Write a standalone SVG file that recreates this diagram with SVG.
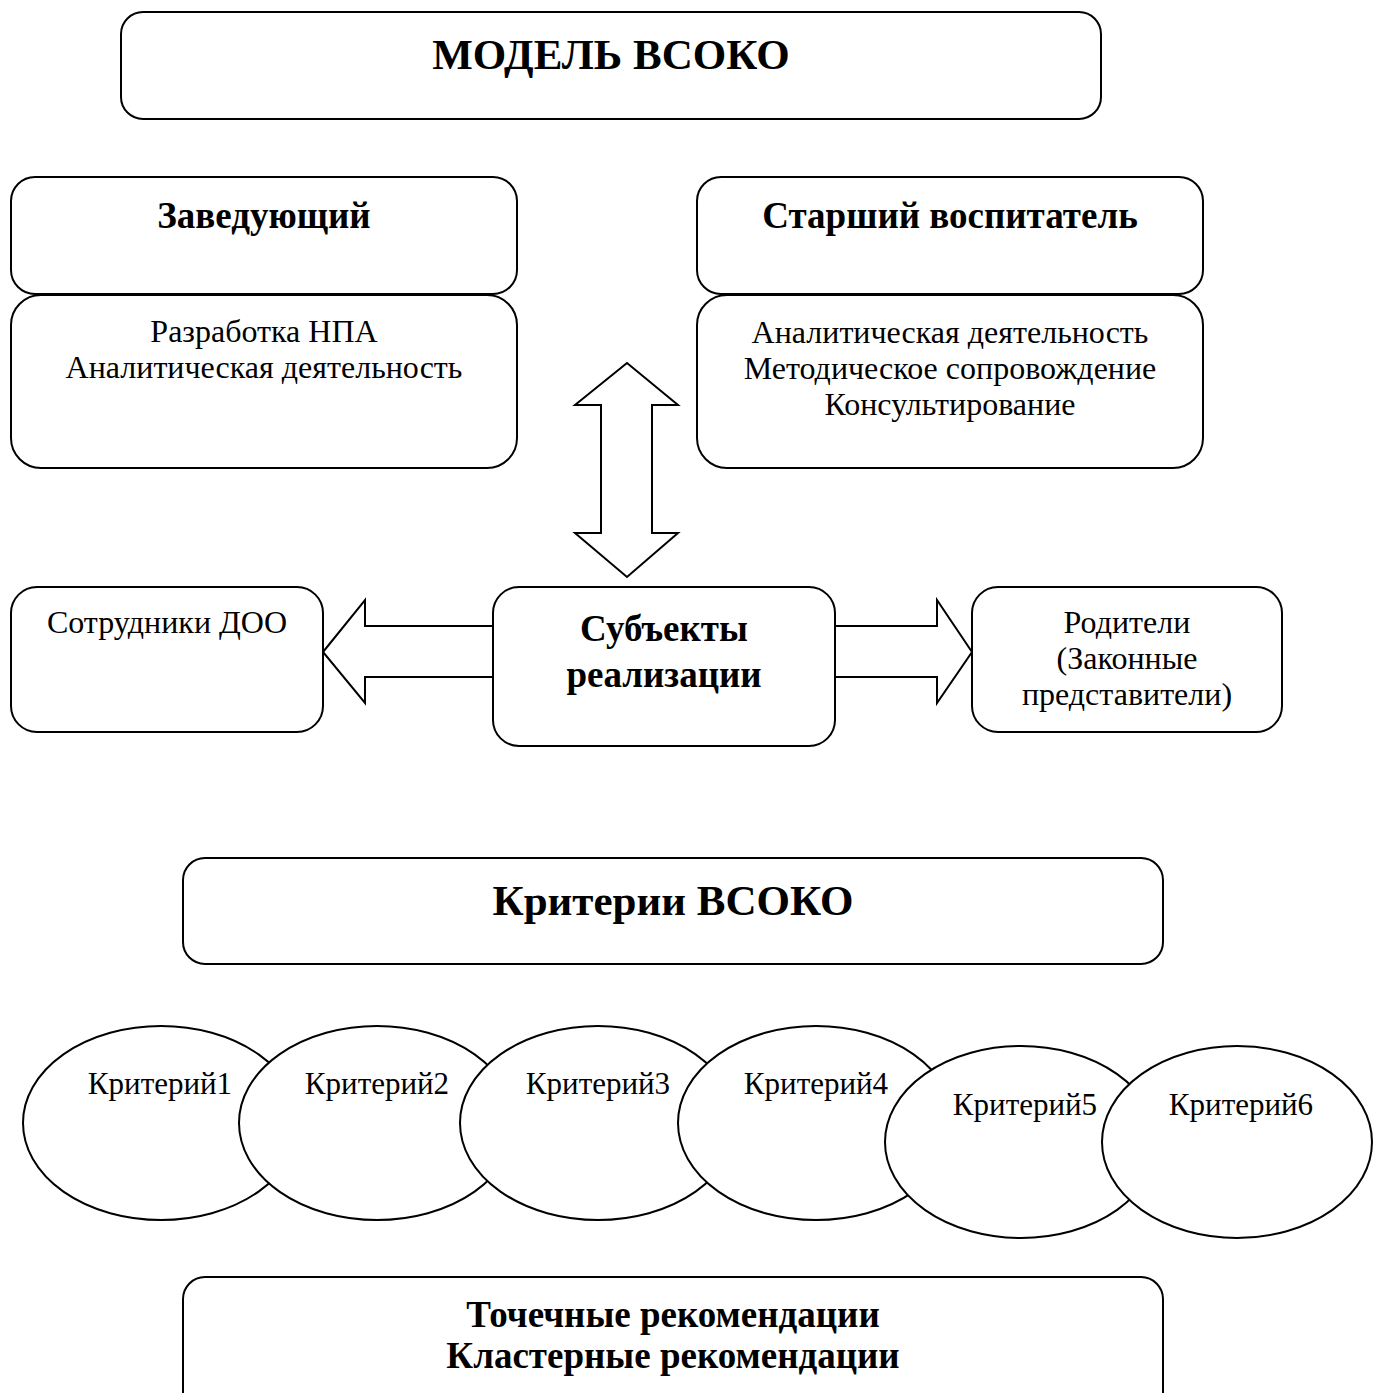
<svg xmlns="http://www.w3.org/2000/svg" width="1373" height="1393" viewBox="0 0 1373 1393">
<style>
.box{fill:#fff;stroke:#000;stroke-width:2}
.arr{fill:#fff;stroke:#000;stroke-width:2;stroke-linejoin:miter}
text{font-family:"Liberation Serif","Times New Roman",serif;fill:#000;text-anchor:middle}
.t1{font-size:43px;font-weight:bold}
.t2{font-size:37px;font-weight:bold}
.t3{font-size:32px}
.t4{font-size:31px}
</style>
<rect width="1373" height="1393" fill="#fff"/>
<g id="model"><rect class="box" x="121" y="12" width="980" height="107" rx="22"/><text class="t1" x="611" y="69">МОДЕЛЬ ВСОКО</text></g>
<g id="zav"><rect class="box" x="11" y="177" width="506" height="117" rx="24"/><text class="t2" x="264" y="228">Заведующий</text></g>
<g id="zav-tasks"><rect class="box" x="11" y="295" width="506" height="173" rx="30"/><text class="t3" x="264" y="342">Разработка НПА</text><text class="t3" x="264" y="378">Аналитическая деятельность</text></g>
<g id="star"><rect class="box" x="697" y="177" width="506" height="117" rx="24"/><text class="t2" x="950" y="228">Старший воспитатель</text></g>
<g id="star-tasks"><rect class="box" x="697" y="295" width="506" height="173" rx="30"/><text class="t3" x="950" y="343">Аналитическая деятельность</text><text class="t3" x="950" y="379">Методическое сопровождение</text><text class="t3" x="950" y="415">Консультирование</text></g>
<g id="connectors">
<polygon class="arr" points="627,363 678,405 652,405 652,533 678,533 627,577 575,533 601,533 601,405 575,405"/>
<polygon class="arr" points="323,652 365,600 365,626 493,626 493,677 365,677 365,703"/>
<polygon class="arr" points="972,652 937,600 937,626 835,626 835,677 937,677 937,703"/>
</g>
<g id="sotr"><rect class="box" x="11" y="587" width="312" height="145" rx="26"/><text class="t3" x="167" y="633">Сотрудники ДОО</text></g>
<g id="subj"><rect class="box" x="493" y="587" width="342" height="159" rx="26"/><text class="t2" x="664" y="641">Субъекты</text><text class="t2" x="664" y="687">реализации</text></g>
<g id="rod"><rect class="box" x="972" y="587" width="310" height="145" rx="26"/><text class="t3" x="1127" y="633">Родители</text><text class="t3" x="1127" y="669">(Законные</text><text class="t3" x="1127" y="705">представители)</text></g>
<g id="krit"><rect class="box" x="183" y="858" width="980" height="106" rx="22"/><text class="t1" x="673" y="915">Критерии ВСОКО</text></g>
<g id="k1"><ellipse class="box" cx="161" cy="1123" rx="138" ry="97"/><text class="t4" x="160" y="1094">Критерий1</text></g>
<g id="k2"><ellipse class="box" cx="377" cy="1123" rx="138" ry="97"/><text class="t4" x="377" y="1094">Критерий2</text></g>
<g id="k3"><ellipse class="box" cx="598" cy="1123" rx="138" ry="97"/><text class="t4" x="598" y="1094">Критерий3</text></g>
<g id="k4"><ellipse class="box" cx="816" cy="1123" rx="138" ry="97"/><text class="t4" x="816" y="1094">Критерий4</text></g>
<g id="k5"><ellipse class="box" cx="1021" cy="1142" rx="136" ry="96"/><text class="t4" x="1025" y="1115">Критерий5</text></g>
<g id="k6"><ellipse class="box" cx="1237" cy="1142" rx="135" ry="96"/><text class="t4" x="1241" y="1115">Критерий6</text></g>
<g id="rec"><rect class="box" x="183" y="1277" width="980" height="140" rx="22"/><text class="t2" x="673" y="1327">Точечные рекомендации</text><text class="t2" x="673" y="1368">Кластерные рекомендации</text></g>
</svg>
